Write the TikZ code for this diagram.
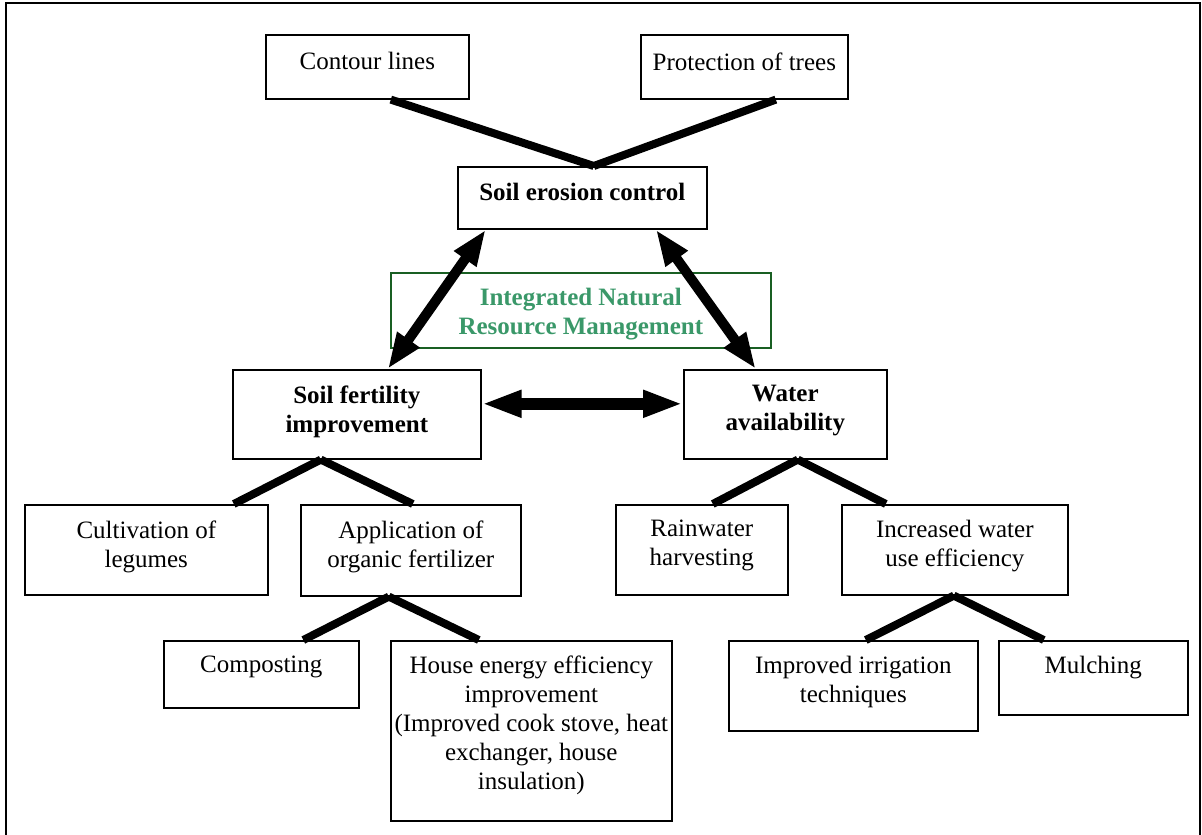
\documentclass[tikz,border=0pt]{standalone}
\usepackage{fontspec}
\setmainfont{Liberation Serif}
\usetikzlibrary{calc,arrows.meta}
\definecolor{inrmgreen}{RGB}{58,152,105}
\definecolor{inrmborder}{RGB}{25,95,35}
\begin{document}
\begin{tikzpicture}[x=0.5pt,y=-0.5pt,
  box/.style={draw, line width=0.8pt, rectangle, inner sep=0pt, anchor=north west},
  txt/.style={anchor=north, align=center, inner sep=0pt, font=\fontsize{12.5}{14.5}\selectfont},
  btxt/.style={txt, font=\fontsize{12.5}{14.5}\selectfont\bfseries},
  conn/.style={line width=4pt},
  dbl/.style={line width=5pt, {Triangle[length=18pt,width=12.5pt]}-{Triangle[length=18pt,width=12.5pt]}},
  hdbl/.style={line width=6pt, {Triangle[length=20pt,width=12.5pt]}-{Triangle[length=20pt,width=12.5pt]}}
]
\clip (0,0) rectangle (1202,834);
\draw[line width=1pt] (6,3) rectangle (1200,900);

% boxes
\node[box, minimum width=101.5pt, minimum height=32pt] (cl) at (265,34) {};
\node[box, minimum width=103.5pt, minimum height=32pt] (pt) at (640,34) {};
\node[box, minimum width=124.5pt, minimum height=31pt] (sec) at (457,166) {};
\node[box, draw=inrmborder, minimum width=190pt, minimum height=37.5pt] (inrm) at (390,272) {};
\node[box, minimum width=124pt, minimum height=44.5pt] (sfi) at (232,369) {};
\node[box, minimum width=101.5pt, minimum height=44.5pt] (wa) at (683,369) {};
\node[box, minimum width=121.5pt, minimum height=45pt] (cul) at (24,504) {};
\node[box, minimum width=110pt, minimum height=45.5pt] (app) at (300,504) {};
\node[box, minimum width=86pt, minimum height=45pt] (rain) at (615,504) {};
\node[box, minimum width=113pt, minimum height=45pt] (inc) at (841,504) {};
\node[box, minimum width=97.5pt, minimum height=33.5pt] (comp) at (163,640) {};
\node[box, minimum width=140.5pt, minimum height=90pt] (house) at (390,640) {};
\node[box, minimum width=124.5pt, minimum height=45pt] (irr) at (728,640) {};
\node[box, minimum width=94.5pt, minimum height=37pt] (mulch) at (998,640) {};

% texts
\node[txt] (clt) at ($(cl.north)+(0,18)$) {Contour lines};
\node[txt] (ptt) at ($(pt.north)+(0,18)$) {Protection of trees};
\node[btxt] (sect) at ($(sec.north)+(0,17)$) {Soil erosion control};
\node[btxt, text=inrmgreen] (inrmt) at ($(inrm.north)+(0,16)$) {Integrated Natural\\Resource Management};
\node[btxt] (sfit) at ($(sfi.north)+(0,16)$) {Soil fertility\\improvement};
\node[btxt] (wat) at ($(wa.north)+(0,16)$) {Water\\availability};
\node[txt] (cult) at ($(cul.north)+(0,16)$) {Cultivation of\\legumes};
\node[txt] (appt) at ($(app.north)+(0,16)$) {Application of\\organic fertilizer};
\node[txt] (raint) at ($(rain.north)+(0,16)$) {Rainwater\\harvesting};
\node[txt] (inct) at ($(inc.north)+(0,16)$) {Increased water\\use efficiency};
\node[txt] (compt) at ($(comp.north)+(0,16)$) {Composting};
\node[txt] (houset) at ($(house.north)+(0,15)$) {House energy efficiency\\improvement\\(Improved cook stove, heat\\exchanger, house\\insulation)};
\node[txt] (irrt) at ($(irr.north)+(0,16)$) {Improved irrigation\\techniques};
\node[txt] (mulcht) at ($(mulch.north)+(0,16)$) {Mulching};

% connectors
\coordinate (secTop) at ($(sec.north)+(11.5,0)$);
\draw[conn] ($(cl.south)+(23.5,0)$) -- (secTop);
\draw[conn] ($(pt.south)+(31.5,0)$) -- (secTop);

\draw[dbl] ($(sec.south)+(-96.5,0)$) -- ($(sfi.north)+(31,0)$);
\draw[dbl] ($(sec.south)+(73.5,0)$) -- ($(wa.north)+(-29.5,0)$);
\draw[hdbl] ($(sfi.east)+(0,-10.5)$) -- ($(wa.west)+(0,-10.5)$);

\coordinate (sfiB) at ($(sfi.south)+(-36,0)$);
\draw[conn] (sfiB) -- ($(cul.north)+(87.5,0)$);
\draw[conn] (sfiB) -- ($(app.north)+(2,0)$);

\coordinate (appB) at ($(app.south)+(-22,0)$);
\draw[conn] (appB) -- ($(comp.north)+(42,0)$);
\draw[conn] (appB) -- ($(house.north)+(-52.5,0)$);

\coordinate (waB) at ($(wa.south)+(12.5,0)$);
\draw[conn] (waB) -- ($(rain.north)+(11,0)$);
\draw[conn] (waB) -- ($(inc.north)+(-69,0)$);

\coordinate (incB) at ($(inc.south)+(-1,0)$);
\draw[conn] (incB) -- ($(irr.north)+(12.5,0)$);
\draw[conn] (incB) -- ($(mulch.north)+(-49.5,0)$);
\end{tikzpicture}
\end{document}
